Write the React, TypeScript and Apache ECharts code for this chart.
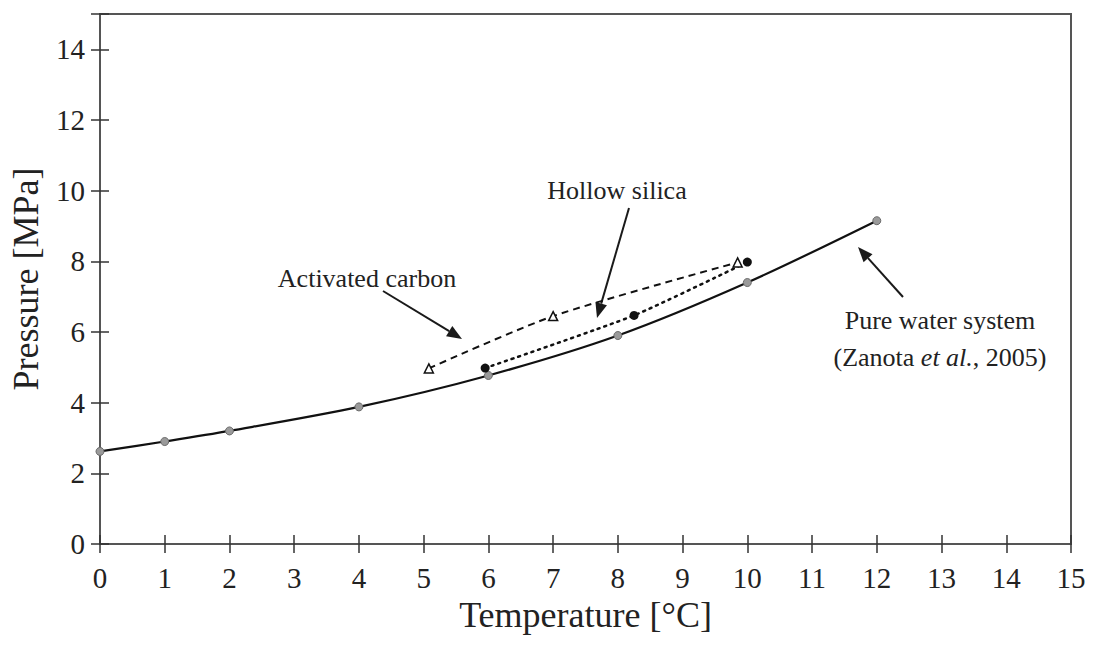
import React, { useEffect, useRef } from "react";
import * as echarts from "echarts";

const xTicks = [0, 1, 2, 3, 4, 5, 6, 7, 8, 9, 10, 11, 12, 13, 14, 15];
const yTicks = [0, 2, 4, 6, 8, 10, 12, 14];

const pureWaterT = [0, 1, 2, 4, 6, 8, 10, 12];
const pureWaterP = [2.62, 2.9, 3.2, 3.88, 4.77, 5.9, 7.4, 9.15];

const carbonT = [5.08, 7.0, 9.85];
const carbonP = [4.97, 6.45, 7.97];

const silicaT = [5.95, 8.25, 10.0];
const silicaP = [4.98, 6.47, 7.98];

const FONT = "'Liberation Serif', 'Times New Roman', serif";
const HALF_TICK = 9;

function arrow(x1: number, y1: number, x2: number, y2: number) {
  const len = 15;
  const half = 6;
  const dx = x2 - x1;
  const dy = y2 - y1;
  const d = Math.sqrt(dx * dx + dy * dy);
  const ux = dx / d;
  const uy = dy / d;
  const bx = x2 - ux * len;
  const by = y2 - uy * len;
  const px = -uy;
  const py = ux;
  return [
    {
      type: "line",
      shape: { x1, y1, x2: bx, y2: by },
      style: { stroke: "#1a1a1a", lineWidth: 2 },
    },
    {
      type: "polygon",
      shape: {
        points: [
          [x2, y2],
          [bx + px * half, by + py * half],
          [bx - px * half, by - py * half],
        ],
      },
      style: { fill: "#1a1a1a" },
    },
  ];
}

export default function App() {
  const ref = useRef<HTMLDivElement>(null);
  useEffect(() => {
    if (!ref.current) return;
    const chart = echarts.init(ref.current, null, { renderer: "svg" });
    const xMin = xTicks[0];
    const xMax = xTicks[xTicks.length - 1];
    const yMin = yTicks[0];
    const yMax = 15;
    const tickLabel = { fontFamily: FONT, fontSize: 29, color: "#222" };
    const tickStyle = { color: "#333", width: 1.5 };
    const annot = (text: string, x: number, y: number) => ({
      type: "text",
      x,
      y,
      style: {
        text,
        fontFamily: FONT,
        fontSize: 26,
        fill: "#222",
        align: "center",
        verticalAlign: "middle",
        rich: {
          i: { fontFamily: FONT, fontSize: 26, fontStyle: "italic", fill: "#222" },
        },
      },
    });
    const option = {
      animation: false,
      backgroundColor: "#fff",
      grid: {
        left: 98,
        right: 24,
        top: 14,
        bottom: 103,
        show: true,
        borderColor: "#555",
        borderWidth: 2,
      },
      xAxis: {
        type: "value",
        min: xMin,
        max: xMax,
        interval: 1,
        offset: -HALF_TICK,
        name: "Temperature [°C]",
        nameLocation: "middle",
        nameGap: 50 + HALF_TICK,
        nameTextStyle: { fontFamily: FONT, fontSize: 36, color: "#222" },
        axisLine: { show: false, onZero: false },
        axisTick: { show: true, length: HALF_TICK * 2, lineStyle: tickStyle },
        axisLabel: { ...tickLabel, margin: 19 + HALF_TICK },
        splitLine: { show: false },
      },
      yAxis: {
        type: "value",
        min: yMin,
        max: yMax,
        interval: 2,
        offset: -HALF_TICK,
        name: "Pressure [MPa]",
        nameLocation: "middle",
        nameGap: 56 + HALF_TICK,
        nameTextStyle: { fontFamily: FONT, fontSize: 36, color: "#222" },
        axisLine: { show: false, onZero: false },
        axisTick: { show: true, length: HALF_TICK * 2, lineStyle: tickStyle },
        axisLabel: {
          ...tickLabel,
          margin: 15 + HALF_TICK,
          formatter: (v: number) => (v > 14 ? "" : String(v)),
        },
        splitLine: { show: false },
      },
      series: [
        {
          name: "Pure water system",
          type: "line",
          smooth: 0.3,
          data: pureWaterT.map((t, i) => [t, pureWaterP[i]]),
          lineStyle: { color: "#111", width: 2.2 },
          symbol: "circle",
          symbolSize: 8,
          itemStyle: { color: "#9a9a9a", borderColor: "#6a6a6a", borderWidth: 1 },
          z: 3,
        },
        {
          name: "Activated carbon",
          type: "line",
          smooth: 0.25,
          data: carbonT.map((t, i) => [t, carbonP[i]]),
          lineStyle: { color: "#111", width: 2, type: [7, 5] },
          symbol: "triangle",
          symbolSize: 9,
          itemStyle: { color: "#fff", borderColor: "#111", borderWidth: 1.5 },
          z: 4,
        },
        {
          name: "Hollow silica",
          type: "line",
          smooth: 0.2,
          data: silicaT.map((t, i) => [t, silicaP[i]]),
          lineStyle: { color: "#111", width: 2.5, type: [2, 5], cap: "round" },
          symbol: "circle",
          symbolSize: 9,
          itemStyle: { color: "#111", borderColor: "#111", borderWidth: 0 },
          z: 4,
        },
      ],
      graphic: [
        ...arrow(383, 291, 462, 339),
        ...arrow(629, 208, 597, 318),
        ...arrow(903, 297, 858, 247),
        annot("Activated carbon", 367, 278),
        annot("Hollow silica", 617, 190),
        annot("Pure water system", 940, 320),
        annot("(Zanota {i|et al.}, 2005)", 940, 357),
      ],
    };
    chart.setOption(option as any);
    return () => chart.dispose();
  }, []);
  return (
    <div
      ref={ref}
      style={{ position: "fixed", left: 0, top: 0, width: 1095, height: 647 }}
    />
  );
}
